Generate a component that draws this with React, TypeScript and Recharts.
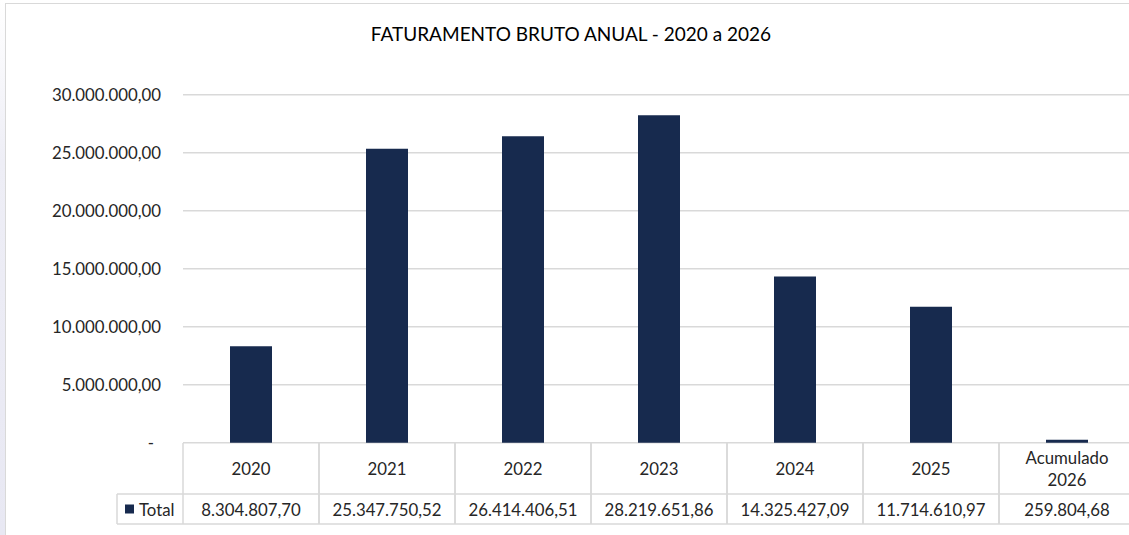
import React from 'react';
import { BarChart, Bar, XAxis, YAxis, CartesianGrid } from 'recharts';

const title = 'FATURAMENTO BRUTO ANUAL - 2020 a 2026';
const categories = ['2020', '2021', '2022', '2023', '2024', '2025', 'Acumulado 2026'];
const totals = [8304807.7, 25347750.52, 26414406.51, 28219651.86, 14325427.09, 11714610.97, 259804.68];
const yTicks = [0, 5000000, 10000000, 15000000, 20000000, 25000000, 30000000];
const seriesName = 'Total';

const data = categories.map((c, i) => ({ category: c, total: totals[i] }));

const NAVY = '#172a4e';
const GRID = '#d9d9d9';
const FONT = 'Lato, "Open Sans", sans-serif';
const TEXT = '#262626';
const FS = 16.8;

function fmt(v: number): string {
  const neg = v < 0;
  const fixed = Math.abs(v).toFixed(2);
  const [intPart, dec] = fixed.split('.');
  const withDots = intPart.replace(/\B(?=(\d{3})+(?!\d))/g, '.');
  return (neg ? '-' : '') + withDots + ',' + dec;
}

const TABLE_TOP = 443;
const ROW2 = 494;
const TABLE_BOTTOM = 524;
const HALF = 68;

const YTick = (props: any) => {
  const { y, payload } = props;
  const v = payload.value as number;
  if (v === 0) {
    return (
      <text x={154} y={y} textAnchor="end" dominantBaseline="central" fontFamily={FONT} fontSize={FS} fill={TEXT}>
        -
      </text>
    );
  }
  return (
    <text x={161} y={y} textAnchor="end" dominantBaseline="central" fontFamily={FONT} fontSize={FS} fill={TEXT}>
      {fmt(v)}
    </text>
  );
};

const XTick = (props: any) => {
  const { x, payload, index } = props;
  const label = String(payload.value);
  const i = categories.indexOf(label);
  const value = totals[i >= 0 ? i : index];
  const words = label.split(' ');
  const left = x - HALF;
  const right = x + HALF;
  return (
    <g>
      <line x1={left} y1={TABLE_TOP} x2={left} y2={TABLE_BOTTOM} stroke={GRID} strokeWidth={1.5} />
      <line x1={right} y1={TABLE_TOP} x2={right} y2={TABLE_BOTTOM} stroke={GRID} strokeWidth={1.5} />
      <line x1={left} y1={ROW2} x2={right} y2={ROW2} stroke={GRID} strokeWidth={1.5} />
      <line x1={left} y1={TABLE_BOTTOM} x2={right} y2={TABLE_BOTTOM} stroke={GRID} strokeWidth={1.5} />
      {words.length > 1 ? (
        <text textAnchor="middle" fontFamily={FONT} fontSize={FS} fill={TEXT}>
          <tspan x={x} y={457} dominantBaseline="central">{words.slice(0, -1).join(' ')}</tspan>
          <tspan x={x} y={479} dominantBaseline="central">{words[words.length - 1]}</tspan>
        </text>
      ) : (
        <text x={x} y={468} textAnchor="middle" dominantBaseline="central" fontFamily={FONT} fontSize={FS} fill={TEXT}>
          {label}
        </text>
      )}
      <text x={x} y={509} textAnchor="middle" dominantBaseline="central" fontFamily={FONT} fontSize={FS} fill={TEXT}>
        {fmt(value)}
      </text>
      {index === 0 && (
        <g>
          <line x1={117} y1={ROW2} x2={left} y2={ROW2} stroke={GRID} strokeWidth={1.5} />
          <line x1={117} y1={TABLE_BOTTOM} x2={left} y2={TABLE_BOTTOM} stroke={GRID} strokeWidth={1.5} />
          <line x1={117} y1={ROW2} x2={117} y2={TABLE_BOTTOM} stroke={GRID} strokeWidth={1.5} />
          <rect x={125} y={504.5} width={9} height={9} fill={NAVY} />
          <text x={139} y={509} dominantBaseline="central" fontFamily={FONT} fontSize={FS} fill={TEXT}>
            {seriesName}
          </text>
        </g>
      )}
    </g>
  );
};

export default function App() {
  return (
    <div
      style={{
        position: 'absolute',
        left: 0,
        top: 0,
        width: 1129,
        height: 535,
        overflow: 'hidden',
        background: '#ffffff',
      }}
    >
      <div
        style={{
          position: 'absolute',
          left: 0,
          top: 0,
          width: 5,
          height: 535,
          background: 'linear-gradient(to bottom, #ffffff 0%, #eeeef6 30%, #e8e8f3 100%)',
        }}
      />
      <div
        style={{
          position: 'absolute',
          left: 5,
          top: 3,
          width: 1140,
          height: 560,
          borderTop: `1.5px solid ${GRID}`,
          borderLeft: `1.5px solid ${GRID}`,
        }}
      />
      <div
        style={{
          position: 'absolute',
          left: 0,
          top: 20,
          width: 1142,
          textAlign: 'center',
          fontFamily: FONT,
          fontSize: 19,
          color: '#000000',
          lineHeight: '28px',
        }}
      >
        {title}
      </div>
      <div style={{ position: 'absolute', left: 0, top: 0 }}>
        <BarChart
          width={1145}
          height={535}
          data={data}
          margin={{ top: 94.7, right: 10, bottom: 0, left: 83 }}
          barCategoryGap={47}
        >
          <CartesianGrid vertical={false} stroke={GRID} strokeWidth={1.5} />
          <YAxis
            width={100}
            domain={[0, 30000000]}
            ticks={yTicks}
            axisLine={false}
            tickLine={false}
            tick={<YTick />}
            interval={0}
          />
          <XAxis
            dataKey="category"
            height={92.3}
            axisLine={false}
            tickLine={false}
            tick={<XTick />}
            interval={0}
          />
          <Bar dataKey="total" name={seriesName} fill={NAVY} barSize={42} isAnimationActive={false} />
        </BarChart>
      </div>
    </div>
  );
}
